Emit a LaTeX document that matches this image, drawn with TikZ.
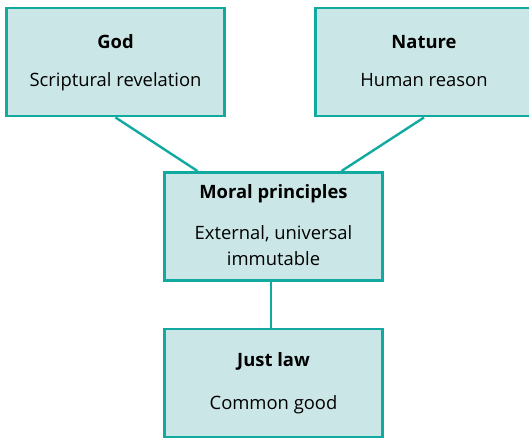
\documentclass[tikz,border=0pt]{standalone}
\usepackage{fontspec}
\setmainfont{Open Sans}
\definecolor{teal1}{RGB}{18,170,160}
\definecolor{fill1}{RGB}{202,230,230}
\begin{document}
\begin{tikzpicture}[x=0.75pt,y=-0.75pt,
  box/.style={draw=teal1,fill=fill1,line width=2.2pt,inner sep=0pt,
    minimum width=163pt,minimum height=81pt,align=center,
    font=\fontsize{13.8}{19.5}\selectfont},
  link/.style={draw=teal1,line width=1.8pt}]
\useasboundingbox (0,0) rectangle (529,438);
\node[box] (god) at (115.5,62) {\textbf{God}\strut\\[9pt]Scriptural revelation\strut};
\node[box] (nature) at (424,62) {\textbf{Nature}\strut\\[9pt]Human reason\strut};
\node[box] (moral) at (273.5,226.5) {\textbf{Moral principles}\strut\\[11pt]External, universal\\immutable\strut};
\node[box] (just) at (273.5,383) {\textbf{Just law}\strut\\[13pt]Common good\strut};
\draw[link] (god.south) -- ([xshift=-57pt]moral.north);
\draw[link] (nature.south) -- ([xshift=51pt]moral.north);
\draw[link] ([xshift=-2pt]moral.south) -- ([xshift=-2pt]just.north);
\end{tikzpicture}
\end{document}
